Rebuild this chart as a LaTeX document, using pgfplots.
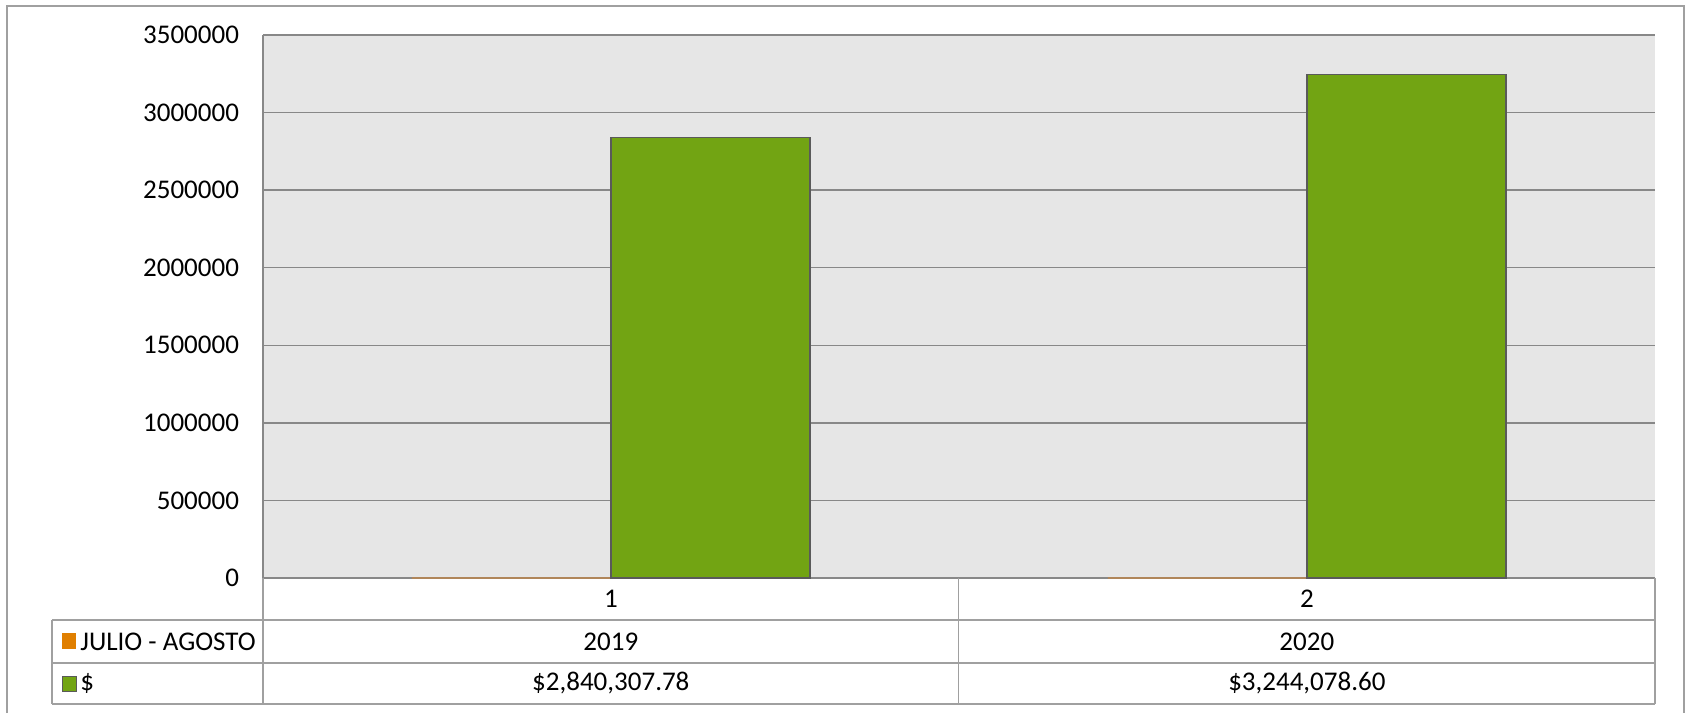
\documentclass[border=0pt]{standalone}
\usepackage{pgfplots}
\pgfplotsset{compat=1.18}
\usepackage{fontspec}
\setmainfont{Carlito}
\definecolor{barGreen}{HTML}{72A413}
\definecolor{barOrange}{HTML}{E07F00}
\definecolor{plotBg}{HTML}{E6E6E6}
\definecolor{gridGray}{HTML}{888888}
\definecolor{lineGray}{HTML}{A0A0A0}
\definecolor{edgeGray}{HTML}{5A5A5A}
\begin{document}
\begin{tikzpicture}[font=\fontsize{13.5}{16}\selectfont]
\useasboundingbox (0,0) rectangle (842.5pt,356.5pt);
% outer frame
\draw[lineGray, line width=0.8pt] (3.5pt,0pt) -- (3.5pt,353.5pt) -- (842pt,353.5pt) -- (842pt,0pt);
\begin{axis}[
  at={(131.5pt,67.5pt)}, anchor=south west,
  scale only axis, width=696pt, height=271.5pt,
  xmin=0.5, xmax=2.5, ymin=0, ymax=3500000,
  enlargelimits=false,
  scaled y ticks=false,
  axis background/.style={fill=plotBg},
  separate axis lines,
  axis x line*=bottom, axis y line*=left,
  axis line style={draw=gridGray, line width=0.8pt, -},
  ymajorgrids, grid style={draw=gridGray, line width=0.75pt},
  major tick length=0pt,
  xtick={1,2}, xticklabels={1,2},
  ytick={0,500000,1000000,1500000,2000000,2500000,3000000,3500000},
  yticklabels={0,500000,1000000,1500000,2000000,2500000,3000000,3500000},
  xticklabel style={anchor=center, yshift=-10.5pt},
  yticklabel style={anchor=east, xshift=-8.5pt},
  ybar, bar width=0.286,
  clip=false,
]
\addplot[fill=barOrange, draw={rgb,255:red,176;green,134;blue,90}, line width=0.6pt, bar shift=-0.143] coordinates {(1,0) (2,0)};
\addplot[fill=barGreen, draw=edgeGray, line width=0.7pt, bar shift=0.143] coordinates {(1,2840307.78) (2,3244078.60)};
\end{axis}
% data table
\begin{scope}[lineGray, line width=0.7pt]
\draw (131.5pt,67.5pt) -- (131.5pt,4.5pt);
\draw (479.25pt,67.5pt) -- (479.25pt,4.5pt);
\draw (827.5pt,67.5pt) -- (827.5pt,4.5pt);
\draw (26pt,46.5pt) -- (26pt,4.5pt);
\draw (26pt,46.5pt) -- (827.5pt,46.5pt);
\draw (26pt,25pt) -- (827.5pt,25pt);
\draw (26pt,4.5pt) -- (827.5pt,4.5pt);
\end{scope}
\fill[barOrange] (31pt,32pt) rectangle (38pt,40pt);
\filldraw[fill=barGreen, draw=edgeGray, line width=0.5pt] (31pt,11pt) rectangle (38pt,18.5pt);
\node[anchor=west, inner sep=0pt] at (40pt,35.75pt) {JULIO - AGOSTO};
\node[anchor=west, inner sep=0pt] at (40pt,14.75pt) {\$};
\node at (305.4pt,35.75pt) {2019};
\node at (653.4pt,35.75pt) {2020};
\node at (305.4pt,14.75pt) {\$2,840,307.78};
\node at (653.4pt,14.75pt) {\$3,244,078.60};
\end{tikzpicture}
\end{document}
